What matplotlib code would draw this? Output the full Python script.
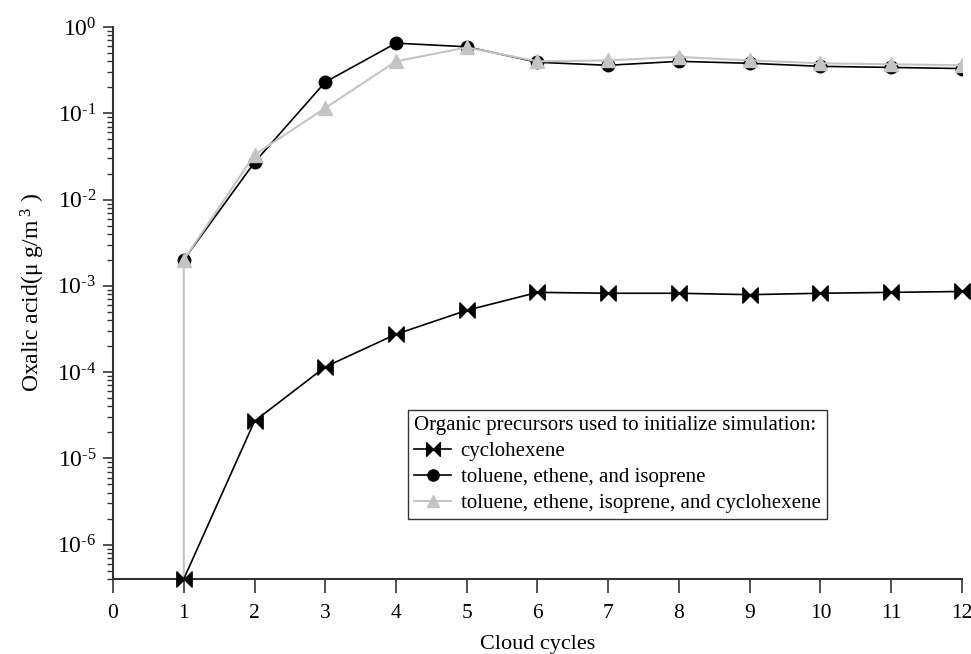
import math
import matplotlib
matplotlib.use('Agg')
import matplotlib.pyplot as plt
from matplotlib.path import Path
from matplotlib.ticker import FixedLocator, FuncFormatter, NullFormatter

plt.rcParams['font.family'] = 'Liberation Serif'
plt.rcParams['mathtext.fontset'] = 'custom'
plt.rcParams['mathtext.rm'] = 'Liberation Serif'
plt.rcParams['mathtext.it'] = 'Liberation Serif'

# data
cycles = [1, 2, 3, 4, 5, 6, 7, 8, 9, 10, 11, 12]
cyclohexene = [4e-7, 2.7e-5, 1.15e-4, 2.75e-4, 5.2e-4, 8.4e-4, 8.2e-4, 8.2e-4, 7.9e-4, 8.2e-4, 8.4e-4, 8.6e-4]
tei = [2.0e-3, 0.027, 0.23, 0.65, 0.59, 0.39, 0.36, 0.40, 0.38, 0.35, 0.34, 0.33]
# all four precursors; first point is the cycle-1 start value (drawn as the vertical drop)
all4_x = [1, 1, 2, 3, 4, 5, 6, 7, 8, 9, 10, 11, 12]
all4 = [4e-7, 2.0e-3, 0.033, 0.115, 0.40, 0.58, 0.40, 0.41, 0.45, 0.41, 0.38, 0.37, 0.36]
labels = ['cyclohexene', 'toluene, ethene, and isoprene',
          'toluene, ethene, isoprene, and cyclohexene']
exponents = [-6, -5, -4, -3, -2, -1, 0]

bowtie = Path([(-1, -1), (0, 0), (-1, 1), (-1, -1), (1, -1), (0, 0), (1, 1), (1, -1)],
              [Path.MOVETO, Path.LINETO, Path.LINETO, Path.CLOSEPOLY,
               Path.MOVETO, Path.LINETO, Path.LINETO, Path.CLOSEPOLY])

fig = plt.figure(figsize=(9.71, 6.54), dpi=100)
ax = fig.add_axes([0.1164, 0.1147, 0.8743, 0.844])

gray = '#c4c4c4'
ax.plot(all4_x, all4, color=gray, lw=1.5, marker='^', ms=10, mfc=gray, mec=gray,
        markevery=list(range(1, len(all4_x))), label=labels[2], zorder=2)
ax.plot(cycles, tei, color='black', lw=1.2, marker='o', ms=9, label=labels[1], zorder=1)
ax.plot(cycles, cyclohexene, color='black', lw=1.2, marker=bowtie, ms=11,
        label=labels[0], zorder=3, clip_on=False)

ax.set_yscale('log')
ax.set_ylim(4e-7, 1)
ax.set_xlim(0, 12)
ax.set_xticks(range(0, 13))

ax.yaxis.set_major_locator(FixedLocator([10.0 ** e for e in exponents]))
minors = [m * 10.0 ** e for e in [-7] + exponents[:-1] for m in range(2, 10)]
ax.yaxis.set_minor_locator(FixedLocator([v for v in minors if 4e-7 <= v <= 1]))
ax.yaxis.set_minor_formatter(NullFormatter())


def pow_label(v, pos):
    e = round(math.log10(v))
    if e < 0:
        return r'$10^{\text{-%d}}$' % (-e)
    return r'$10^{%d}$' % e


ax.yaxis.set_major_formatter(FuncFormatter(pow_label))

for s in ['top', 'right']:
    ax.spines[s].set_visible(False)
for s in ['left', 'bottom']:
    ax.spines[s].set_color('#333333')
    ax.spines[s].set_linewidth(1.5)

ax.tick_params(axis='x', direction='out', length=10, width=1.2, color='#333333',
               labelsize=15.5, pad=8)
ax.tick_params(axis='y', which='major', direction='out', length=7, width=1.2,
               color='#333333', labelsize=17, pad=5)
ax.tick_params(axis='y', which='minor', direction='out', length=4, width=1.0,
               color='#333333')

ax.set_xlabel('Cloud cycles', fontsize=16, labelpad=9)
ax.set_ylabel(r'Oxalic acid(μ g/m$^{\ 3}$ )', fontsize=17)
ax.yaxis.set_label_coords(-0.078, 0.52)

handles, labs = ax.get_legend_handles_labels()
order = [2, 1, 0]
leg = ax.legend([handles[i] for i in order], [labs[i] for i in order],
                title='Organic precursors used to initialize simulation:',
                loc='upper left', bbox_to_anchor=(0.347, 0.306),
                fontsize=15, title_fontsize=15, frameon=True, fancybox=False,
                edgecolor='black', handlelength=1.8, handletextpad=0.45,
                borderpad=0.3, labelspacing=0.3, borderaxespad=0, markerscale=0.9)
leg._legend_box.align = 'left'
leg.get_frame().set_linewidth(1.0)

fig.savefig('out.png', dpi=100)
